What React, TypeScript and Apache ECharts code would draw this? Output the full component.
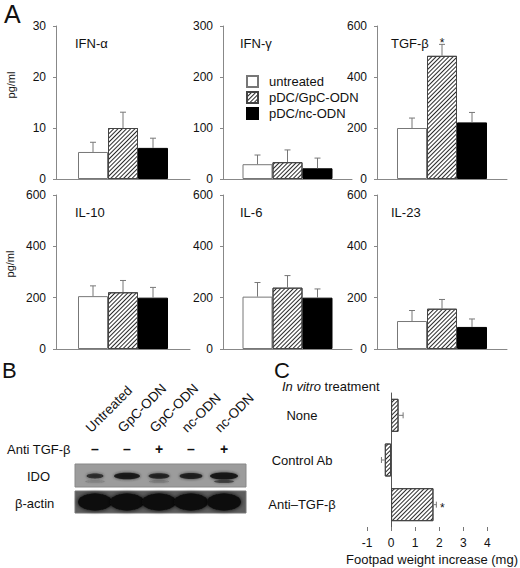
import React, { useEffect, useRef } from 'react';
import * as echarts from 'echarts';

const FONT = '"Liberation Sans", Arial, Helvetica, sans-serif';

// panel A: cytokines (pg/ml), mean and SE per treatment group
const groups = ['untreated', 'pDC/GpC-ODN', 'pDC/nc-ODN'];
const cytokines = ['IFN-α', 'IFN-γ', 'TGF-β', 'IL-10', 'IL-6', 'IL-23'];
const yMax = [30, 300, 600, 600, 600, 600];
const yStep = [10, 100, 200, 200, 200, 200];
const untreatedMean = [5.3, 29, 200, 206, 204, 109];
const untreatedSE = [1.9, 18, 39, 40, 55, 41];
const gpcMean = [10.0, 33, 483, 221, 239, 157];
const gpcSE = [3.1, 24, 45, 46, 47, 36];
const ncMean = [6.1, 21, 222, 200, 200, 86];
const ncSE = [1.9, 20, 39, 40, 34, 31];
const gpcSignificant = [false, false, true, false, false, false];

// panel C: footpad weight increase (mg)
const treatments = ['None', 'Control Ab', 'Anti–TGF-β'];
const footpadMean = [0.31, -0.26, 1.76];
const footpadSE = [0.19, 0.14, 0.12];
const footpadSig = [false, false, true];
const footpadTicks = [-1, 0, 1, 2, 3, 4];

// panel B: western blot
const laneLabels = ['Untreated', 'GpC-ODN', 'GpC-ODN', 'nc-ODN', 'nc-ODN'];
const antiTgf = ['–', '–', '+', '–', '+'];
const idoIntensity = [0.45, 0.9, 0.65, 0.75, 1.0];
const idoLowerIntensity = [0.12, 0, 0.18, 0, 0.6];
const actinIntensity = [1, 1, 1, 1, 1];

const BAR_W = 30;
const colLeft = [56, 223, 377];
const colWidth = [134, 129, 130];
const rowTop = [26, 195];
const rowHeight = [153, 154];

const hatch: any = {
  symbol: 'rect',
  symbolSize: 1,
  color: '#2a2a2a',
  dashArrayX: [1, 0],
  dashArrayY: [1, 2],
  rotation: -Math.PI / 4,
};

const barStyles: any[] = [
  { color: '#fff', borderColor: '#777', borderWidth: 1 },
  { color: '#fff', borderColor: '#444', borderWidth: 1, decal: hatch },
  { color: '#000', borderColor: '#000', borderWidth: 1 },
];

const errStroke = { stroke: '#777', lineWidth: 1 };

const renderErrA = (_p: any, api: any) => {
  const mean = api.value(1);
  const se = api.value(2);
  const g = api.value(3);
  const base = api.coord([0, mean]);
  const top = api.coord([0, mean + se]);
  const x = base[0] + (g - 1) * BAR_W;
  const children: any[] = [
    { type: 'line', shape: { x1: x, y1: base[1], x2: x, y2: top[1] }, style: errStroke },
    { type: 'line', shape: { x1: x - 3, y1: top[1], x2: x + 3, y2: top[1] }, style: errStroke },
  ];
  if (api.value(4)) {
    children.push({
      type: 'text',
      x,
      y: top[1] - 1,
      style: { text: '*', fill: '#111', font: `12px ${FONT}`, align: 'center', verticalAlign: 'middle' },
    });
  }
  return { type: 'group', children };
};

const renderErrC = (_p: any, api: any) => {
  const mean = api.value(0);
  const idx = api.value(1);
  const se = api.value(2);
  const end = mean + (mean < 0 ? -se : se);
  const a = api.coord([mean, idx]);
  const b = api.coord([end, idx]);
  const children: any[] = [
    { type: 'line', shape: { x1: a[0], y1: a[1], x2: b[0], y2: b[1] }, style: errStroke },
    { type: 'line', shape: { x1: b[0], y1: b[1] - 3, x2: b[0], y2: b[1] + 3 }, style: errStroke },
  ];
  if (api.value(3)) {
    children.push({
      type: 'text',
      x: b[0] + 6,
      y: b[1] + 3,
      style: { text: '*', fill: '#111', font: `12px ${FONT}`, align: 'center', verticalAlign: 'middle' },
    });
  }
  return { type: 'group', children };
};

function blotGraphics(): any[] {
  const laneX = [95, 127, 159, 191, 224];
  const els: any[] = [];
  const txt = (text: string, x: number, y: number, extra: any = {}) => ({
    type: 'text',
    x,
    y,
    ...extra,
    style: { text, fill: '#111', font: `13px ${FONT}`, align: 'left', verticalAlign: 'middle', ...(extra.style || {}) },
  });
  laneLabels.forEach((t, i) => {
    els.push(
      txt(t, laneX[i] - 2, 435, { rotation: Math.PI / 4, style: { verticalAlign: 'bottom', font: `13.5px ${FONT}` } }),
    );
  });
  els.push(txt('Anti TGF-β', 7, 449));
  antiTgf.forEach((t, i) => els.push(txt(t, laneX[i], 449, { style: { align: 'center', font: `bold 14px ${FONT}` } })));
  els.push(txt('IDO', 27, 476));
  els.push(txt('β-actin', 15, 503));
  els.push({ type: 'rect', shape: { x: 75, y: 464, width: 171, height: 23 }, style: { fill: '#9c9c9c', stroke: '#888' } });
  els.push({ type: 'rect', shape: { x: 75, y: 491, width: 171, height: 22 }, style: { fill: '#5e5e5e', stroke: '#777' } });
  laneX.forEach((x, i) => {
    const k = idoIntensity[i];
    els.push({
      type: 'ellipse',
      shape: { cx: x, cy: 476, rx: 4 + 10 * k, ry: 1.5 + 2 * k },
      style: { fill: '#151515', opacity: 0.45 + 0.5 * k, shadowBlur: 3, shadowColor: '#222' },
    });
    const low = idoLowerIntensity[i];
    if (low > 0) {
      els.push({
        type: 'ellipse',
        shape: { cx: x, cy: 481.5, rx: 10, ry: 1.5 },
        style: { fill: '#222', opacity: low, shadowBlur: 2, shadowColor: '#333' },
      });
    }
    const a = actinIntensity[i];
    els.push({
      type: 'ellipse',
      shape: { cx: x, cy: 502, rx: 17, ry: 8.5 },
      style: { fill: '#0b0b0b', opacity: a, shadowBlur: 4, shadowColor: '#000' },
    });
  });
  return els;
}

function buildOption(): echarts.EChartsOption {
  const grid: any[] = [];
  const xAxis: any[] = [];
  const yAxis: any[] = [];
  const series: any[] = [];
  const title: any[] = [];
  const means = [untreatedMean, gpcMean, ncMean];
  const ses = [untreatedSE, gpcSE, ncSE];
  const titleOffset = [19, 17, 14];

  cytokines.forEach((name, i) => {
    const r = Math.floor(i / 3);
    const c = i % 3;
    grid.push({ left: colLeft[c], top: rowTop[r], width: colWidth[c], height: rowHeight[r] });
    xAxis.push({
      type: 'category',
      gridIndex: i,
      data: [name],
      axisLine: { lineStyle: { color: '#888' } },
      axisTick: { show: false },
      axisLabel: { show: false },
    });
    yAxis.push({
      type: 'value',
      gridIndex: i,
      min: 0,
      max: yMax[i],
      interval: yStep[i],
      axisLine: { show: true, lineStyle: { color: '#888' } },
      axisTick: { show: true, length: 3, lineStyle: { color: '#888' } },
      axisLabel: { color: '#111', fontSize: 12, fontFamily: FONT, margin: 10 },
      splitLine: { show: false },
    });
    groups.forEach((g, k) => {
      series.push({
        type: 'bar',
        name: g,
        xAxisIndex: i,
        yAxisIndex: i,
        data: [means[k][i]],
        barWidth: BAR_W,
        barGap: '0%',
        itemStyle: barStyles[k],
      });
    });
    series.push({
      type: 'custom',
      xAxisIndex: i,
      yAxisIndex: i,
      z: 5,
      renderItem: renderErrA,
      data: groups.map((_, k) => [0, means[k][i], ses[k][i], k, k === 1 && gpcSignificant[i] ? 1 : 0]),
    });
    title.push({
      text: name,
      left: colLeft[c] + titleOffset[c],
      top: r === 0 ? 37 : 206,
      padding: 0,
      textStyle: { fontSize: 13, fontWeight: 'normal', color: '#111', fontFamily: FONT },
    });
  });

  // panel C
  grid.push({ left: 367, top: 393, width: 140, height: 134 });
  xAxis.push({
    type: 'value',
    gridIndex: 6,
    min: -1,
    max: 4.4,
    interval: 1,
    axisLine: { lineStyle: { color: '#777' } },
    axisTick: { show: true, length: 4, customValues: footpadTicks, lineStyle: { color: '#777' } },
    axisLabel: {
      color: '#111',
      fontSize: 12,
      fontFamily: FONT,
      margin: 10,
      customValues: footpadTicks,
      formatter: (v: number) => (Number.isInteger(v) ? String(v) : ''),
    },
    splitLine: { show: false },
    name: 'Footpad weight increase (mg)',
    nameLocation: 'middle',
    nameGap: 26,
    nameTextStyle: { color: '#111', fontSize: 13, fontFamily: FONT },
  });
  yAxis.push({
    type: 'category',
    gridIndex: 6,
    inverse: true,
    data: treatments,
    axisLine: { lineStyle: { color: '#555' } },
    axisTick: { show: false },
    axisLabel: { color: '#111', fontSize: 13, fontFamily: FONT, align: 'center', margin: 65 },
  });
  series.push({
    type: 'bar',
    xAxisIndex: 6,
    yAxisIndex: 6,
    data: footpadMean,
    barWidth: 33,
    itemStyle: barStyles[1],
  });
  series.push({
    type: 'custom',
    xAxisIndex: 6,
    yAxisIndex: 6,
    z: 5,
    renderItem: renderErrC,
    encode: { x: 0, y: 1 },
    data: footpadMean.map((m, i) => [m, i, footpadSE[i], footpadSig[i] ? 1 : 0]),
  });

  const graphic: any[] = [
    { type: 'text', x: 4, y: 1, style: { text: 'A', fill: '#111', font: `25px ${FONT}` } },
    { type: 'text', x: 2, y: 359, style: { text: 'B', fill: '#111', font: `22px ${FONT}` } },
    { type: 'text', x: 274, y: 359, style: { text: 'C', fill: '#111', font: `22px ${FONT}` } },
    {
      type: 'text',
      x: 11,
      y: 85,
      rotation: Math.PI / 2,
      style: { text: 'pg/ml', fill: '#111', font: `11px ${FONT}`, align: 'center', verticalAlign: 'middle' },
    },
    {
      type: 'text',
      x: 10,
      y: 264,
      rotation: Math.PI / 2,
      style: { text: 'pg/ml', fill: '#111', font: `11px ${FONT}`, align: 'center', verticalAlign: 'middle' },
    },
    {
      type: 'text',
      x: 282,
      y: 386,
      style: {
        text: '{i|In vitro} treatment',
        fill: '#111',
        font: `13px ${FONT}`,
        verticalAlign: 'middle',
        rich: { i: { fontStyle: 'italic', fontSize: 13, fontFamily: FONT, fill: '#111' } },
      },
    },
    ...blotGraphics(),
  ];

  return {
    animation: false,
    backgroundColor: '#fff',
    title,
    grid,
    xAxis,
    yAxis,
    series,
    graphic,
    legend: {
      data: groups,
      orient: 'vertical',
      left: 246,
      top: 75,
      padding: 0,
      itemWidth: 11,
      itemHeight: 11,
      itemGap: 3,
      icon: 'rect',
      selectedMode: false,
      textStyle: { fontSize: 13, color: '#111', fontFamily: FONT, padding: [0, 0, 0, 6] },
    },
  };
}

export default function App() {
  const elRef = useRef<HTMLDivElement | null>(null);

  useEffect(() => {
    if (!elRef.current) return;
    const chart = echarts.init(elRef.current, null, { renderer: 'svg' });
    chart.setOption(buildOption());
    return () => chart.dispose();
  }, []);

  return <div ref={elRef} style={{ position: 'absolute', left: 0, top: 0, width: 520, height: 568 }} />;
}
